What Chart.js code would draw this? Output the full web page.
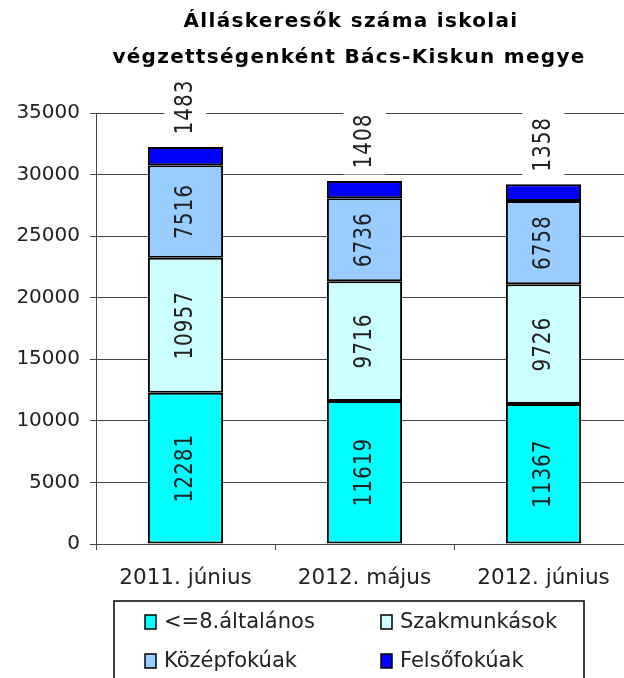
<!DOCTYPE html>
<html>
<head>
<meta charset="utf-8">
<script src="https://cdn.jsdelivr.net/npm/chart.js@4"></script>
<style>
  html, body { margin: 0; padding: 0; background: #fff; overflow: hidden; }
  #wrap { width: 640px; height: 678px; }
</style>
</head>
<body>
<div id="wrap"><canvas id="chart" width="640" height="678"></canvas></div>
<script>
// categories and series
const months = ["2011. június", "2012. május", "2012. június"];
const elemi = [12281, 11619, 11367];
const szakmunkas = [10957, 9716, 9726];
const kozepfok = [7516, 6736, 6758];
const felsofok = [1483, 1408, 1358];
const seriesNames = ["<=8.általános", "Szakmunkások", "Középfokúak", "Felsőfokúak"];
const seriesColors = ["#00FFFF", "#CCFFFF", "#99CCFF", "#0000FF"];
const titleLines = ["Álláskeresők száma iskolai", "végzettségenként Bács-Kiskun megye"];

const FONT = '"DejaVu Sans", sans-serif';

// draw the title, the value labels and the boxed legend by hand
const decorPlugin = {
  id: "decor",
  afterDatasetsDraw(chart) {
    const ctx = chart.ctx;
    ctx.save();
    ctx.font = "20px " + FONT;
    ctx.letterSpacing = "1px";
    ctx.fillStyle = "#222";
    ctx.textAlign = "center";
    ctx.textBaseline = "middle";
    chart.data.datasets.forEach((ds, di) => {
      const meta = chart.getDatasetMeta(di);
      meta.data.forEach((bar, i) => {
        const txt = String(ds.data[i]);
        const w = ctx.measureText(txt).width;
        let cy;
        if (di === 3) {
          // top series: label sits above the stack on a white patch
          cy = bar.y - 40 - (w - 55) / 2;
          ctx.fillStyle = "#fff";
          ctx.fillRect(bar.x - 21, cy - w / 2 - 6, 42, w + 12);
          ctx.fillStyle = "#222";
        } else {
          cy = (bar.y + bar.base) / 2;
        }
        ctx.save();
        ctx.translate(bar.x, cy);
        ctx.rotate(-Math.PI / 2);
        ctx.scale(1, 1.2);
        ctx.fillText(txt, 0, 0);
        ctx.restore();
      });
    });
    ctx.restore();
  },
  afterDraw(chart) {
    const ctx = chart.ctx;
    ctx.save();
    // title
    ctx.fillStyle = "#000";
    ctx.font = "bold 20px " + FONT;
    ctx.textAlign = "center";
    ctx.textBaseline = "middle";
    ctx.letterSpacing = "1.3px";
    ctx.fillText(titleLines[0], 351, 22);
    ctx.fillText(titleLines[1], 349, 58);
    ctx.letterSpacing = "0px";
    // legend
    ctx.strokeStyle = "#000";
    ctx.lineWidth = 1.5;
    ctx.strokeRect(114, 601, 470, 100);
    ctx.font = "21px " + FONT;
    ctx.textAlign = "left";
    const spots = [[145, 622], [381, 622], [145, 661], [381, 661]];
    seriesNames.forEach((name, k) => {
      const [x, y] = spots[k];
      ctx.fillStyle = seriesColors[k];
      ctx.fillRect(x, y - 7, 11, 14);
      ctx.strokeRect(x, y - 7, 11, 14);
      ctx.fillStyle = "#222";
      ctx.fillText(name, x + 19, y + 1);
    });
    ctx.restore();
  }
};

const seriesData = [elemi, szakmunkas, kozepfok, felsofok];

new Chart(document.getElementById("chart"), {
  type: "bar",
  data: {
    labels: months,
    datasets: seriesNames.map((name, k) => ({
      label: name,
      data: seriesData[k],
      backgroundColor: seriesColors[k],
      borderColor: "#000",
      borderWidth: 2,
      borderSkipped: false,
      categoryPercentage: 1,
      barPercentage: 0.42,
    })),
  },
  options: {
    responsive: false,
    animation: false,
    events: [],
    layout: { padding: { top: 113, right: 7, left: 0, bottom: 0 } },
    plugins: { legend: { display: false }, title: { display: false }, tooltip: { enabled: false } },
    scales: {
      x: {
        stacked: true,
        offset: true,
        grid: { offset: true, drawOnChartArea: false, color: "#444", tickLength: 6 },
        border: { color: "#444", width: 1 },
        ticks: { color: "#222", font: { family: FONT, size: 21.5 }, padding: 16 },
        afterFit(scale) { scale.height = 134; },
      },
      y: {
        stacked: true,
        min: 0,
        max: 35000,
        ticks: {
          stepSize: 5000,
          color: "#222",
          font: { family: FONT, size: 20 },
          padding: 10,
          callback: (v) => String(v),
        },
        grid: { color: "#444", tickLength: 6 },
        border: { color: "#444", width: 1 },
        afterFit(scale) { scale.width = 96; },
      },
    },
  },
  plugins: [decorPlugin],
});
</script>
</body>
</html>
